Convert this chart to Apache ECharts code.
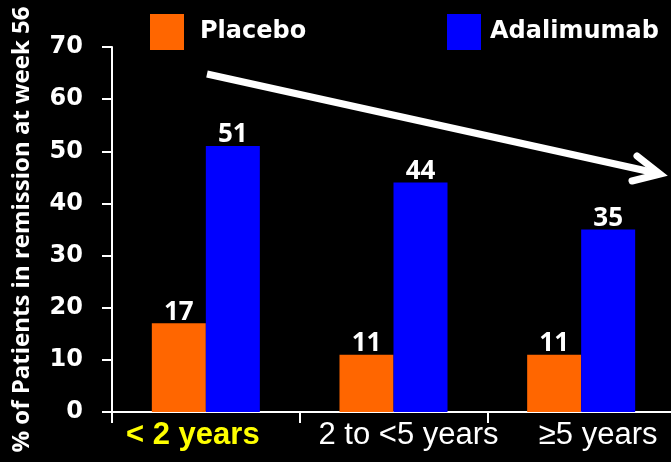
<!DOCTYPE html>
<html>
<head>
<meta charset="utf-8">
<script src="https://cdn.jsdelivr.net/npm/echarts@6/dist/echarts.min.js"></script>
<style>
  html, body { margin: 0; padding: 0; background: #000; }
  #chart { width: 671px; height: 462px; }
</style>
</head>
<body>
<div id="chart"></div>
<script>
// Remission at week 56 by disease duration
const categories = ['< 2 years', '2 to <5 years', '\u22655 years'];
const placebo = [17, 11, 11];
const adalimumab = [51, 44, 35];
const yTicks = [0, 10, 20, 30, 40, 50, 60, 70];

const chart = echarts.init(document.getElementById('chart'));

const labelStyle = {
  show: true,
  position: 'top',
  distance: -2,
  color: '#fff',
  fontFamily: 'Open Sans',
  fontWeight: 'bold',
  fontSize: 26
};

chart.setOption({
  backgroundColor: '#000',
  animation: false,
  legend: [
    {
      data: ['Placebo'], left: 145, top: 9,
      itemWidth: 34, itemHeight: 36, icon: 'rect',
      textStyle: { color: '#fff', fontFamily: 'DejaVu Sans', fontWeight: 'bold', fontSize: 24, padding: [0, 0, 12, 11] }
    },
    {
      data: ['Adalimumab'], left: 442, top: 9,
      itemWidth: 34, itemHeight: 36, icon: 'rect',
      textStyle: { color: '#fff', fontFamily: 'DejaVu Sans', fontWeight: 'bold', fontSize: 24, padding: [0, 0, 12, 4] }
    }
  ],
  grid: { left: 112, right: -4, top: 47, bottom: 50, containLabel: false, outerBoundsMode: 'none' },
  xAxis: {
    type: 'category',
    data: categories,
    axisLine: { lineStyle: { color: '#fff', width: 2 } },
    axisTick: { show: true, length: 11, lineStyle: { color: '#fff', width: 2 } },
    axisLabel: {
      margin: 8,
      formatter: function (v, i) {
        return '{c' + i + '|' + v + '}';
      },
      rich: {
        c0: { color: '#ffff00', fontFamily: 'Liberation Sans', fontWeight: 'bold', fontSize: 31, padding: [0, 26, 0, 0] },
        c1: { color: '#fff', fontFamily: 'Liberation Sans', fontSize: 31, padding: [0, 0, 0, 30] },
        c2: { color: '#fff', fontFamily: 'Liberation Sans', fontSize: 31, padding: [0, 0, 0, 34] }
      }
    }
  },
  yAxis: {
    type: 'value',
    min: yTicks[0],
    max: yTicks[yTicks.length - 1],
    interval: 10,
    name: '% of Patients in remission at week 56',
    nameLocation: 'middle',
    nameGap: 78,
    nameTextStyle: { color: '#fff', fontFamily: 'Open Sans', fontWeight: 'bold', fontSize: 24 },
    axisLine: { show: true, lineStyle: { color: '#fff', width: 2 } },
    axisTick: { show: true, length: 10, lineStyle: { color: '#fff', width: 2 } },
    splitLine: { show: false },
    axisLabel: {
      margin: 29,
      color: '#fff',
      fontFamily: 'DejaVu Sans',
      fontWeight: 'bold',
      fontSize: 24
    }
  },
  series: [
    {
      name: 'Placebo', type: 'bar', data: placebo,
      barWidth: 54, barGap: '0%',
      itemStyle: { color: '#ff6600' },
      label: labelStyle
    },
    {
      name: 'Adalimumab', type: 'bar', data: adalimumab,
      barWidth: 54, barGap: '0%',
      itemStyle: { color: '#0000ff' },
      label: labelStyle
    }
  ],
  // Trend arrow over the chart
  graphic: [
    {
      type: 'group',
      children: [
        { type: 'line', shape: { x1: 207, y1: 74, x2: 656, y2: 173 }, style: { stroke: '#fff', lineWidth: 7 } },
        { type: 'polyline', shape: { points: [[637, 156], [660, 174], [632, 181]] }, style: { stroke: '#fff', lineWidth: 7, fill: null, lineCap: 'round', lineJoin: 'miter' } }
      ]
    }
  ]
});
</script>
</body>
</html>
